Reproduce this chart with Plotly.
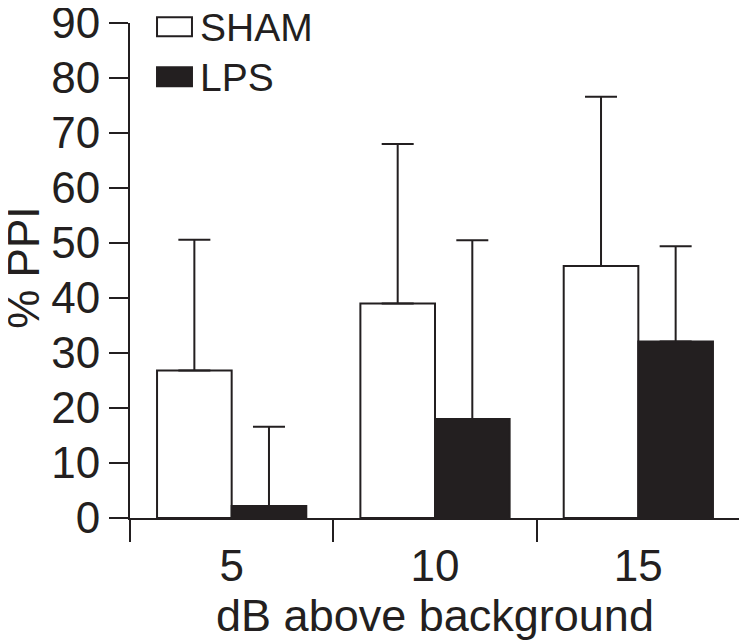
import plotly.graph_objects as go

categories = ["5", "10", "15"]
sham_mean = [26.8, 39.0, 45.8]
sham_err = [23.8, 29.0, 30.8]
lps_mean = [2.2, 18.0, 32.1]
lps_err = [14.4, 32.5, 17.3]
y_ticks = [0, 10, 20, 30, 40, 50, 60, 70, 80, 90]

INK = "#231f20"
FONT = "Liberation Sans, Arial, Helvetica, sans-serif"

fig = go.Figure()
fig.add_trace(go.Bar(
    name="SHAM", x=categories, y=sham_mean,
    marker=dict(color="white", line=dict(color=INK, width=2)),
    error_y=dict(type="data", array=sham_err, arrayminus=[0] * 3, symmetric=False,
                 color=INK, thickness=2, width=16),
))
fig.add_trace(go.Bar(
    name="LPS", x=categories, y=lps_mean,
    marker=dict(color=INK, line=dict(color=INK, width=2)),
    error_y=dict(type="data", array=lps_err, arrayminus=[0] * 3, symmetric=False,
                 color=INK, thickness=2, width=16),
))

# legend drawn as shapes + text
legend_items = [("SHAM", "white", 0.973, 1.0115, 0.9913), ("LPS", INK, 0.872, 0.9106, 0.8906)]
for name, fill, y0, y1, ty in legend_items:
    fig.add_shape(type="rect", xref="paper", yref="paper", x0=0.0443, x1=0.1016,
                  y0=y0, y1=y1, fillcolor=fill, line=dict(color=INK, width=2))
    fig.add_annotation(text=name, xref="paper", yref="paper", x=0.112, y=ty,
                       xanchor="left", yanchor="middle", showarrow=False,
                       font=dict(size=39, color=INK, family=FONT))

# y-axis title placed as rotated text
fig.add_annotation(text="% PPI", xref="paper", yref="paper", x=-0.175, y=0.506,
                   xanchor="center", yanchor="middle", textangle=-90, showarrow=False,
                   font=dict(size=44, color=INK, family=FONT))

fig.update_layout(
    width=739, height=636,
    margin=dict(l=122, r=7, t=15, b=126),
    paper_bgcolor="white", plot_bgcolor="white",
    barmode="group", bargap=0.266, bargroupgap=0,
    showlegend=False,
    font=dict(family=FONT, color=INK, size=44),
    xaxis=dict(
        type="category", categoryorder="array", categoryarray=categories,
        range=[-0.5, 2.5], showline=True, linecolor=INK, linewidth=2,
        ticks="outside", tickson="boundaries", ticklen=22, tickwidth=2, tickcolor=INK,
        showgrid=False, zeroline=False, automargin=False,
        ticklabelstandoff=8, ticklabeloverflow="allow",
        tickfont=dict(size=44, color=INK),
        title=dict(text="dB above background", font=dict(size=45, color=INK), standoff=9),
    ),
    yaxis=dict(
        range=[0, 90], tickvals=y_ticks, showline=True, linecolor=INK, linewidth=2,
        ticks="outside", ticklen=19, tickwidth=2, tickcolor=INK,
        showgrid=False, zeroline=False, automargin=False,
        ticklabeloverflow="allow",
        tickfont=dict(size=44, color=INK),
    ),
)

fig.write_html("out.html")
